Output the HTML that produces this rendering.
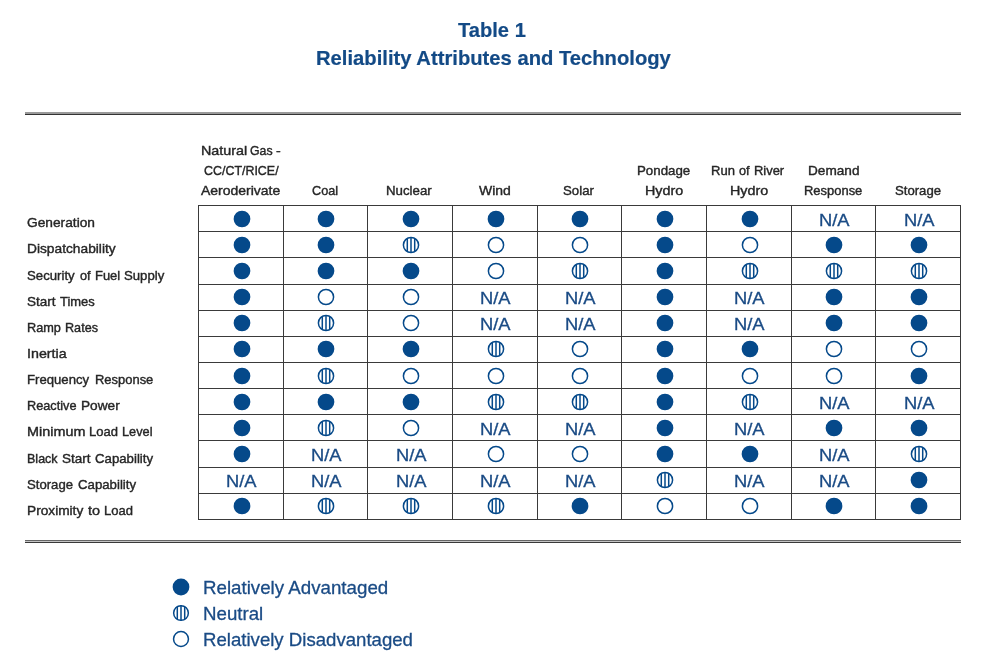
<!DOCTYPE html>
<html><head><meta charset="utf-8"><title>Table 1 - Reliability Attributes and Technology</title>
<style>
html,body{margin:0;padding:0;background:#fff;}
body{width:991px;height:667px;position:relative;overflow:hidden;font-family:"Liberation Sans",sans-serif;}
#pg{position:absolute;left:0;top:0;width:991px;height:667px;background:#fff;will-change:transform;}
.t{position:absolute;white-space:pre;line-height:1;transform-origin:0 0;}
.ic{position:absolute;overflow:visible;}
.h,.v{position:absolute;background:#3a3a3a;}
.h{height:1px;left:198.0px;width:763.0px;}
.v{width:1px;top:205.0px;height:315.0px;}
.r{position:absolute;left:25px;width:936px;}
</style></head><body><div id="pg">
<div class="r" style="top:112px;height:2px;background:#9a9a9a"></div><div class="r" style="top:114px;height:1px;background:#333"></div>
<div class="r" style="top:540px;height:1px;background:#666"></div><div class="r" style="top:541px;height:1px;background:#c4c4c4"></div><div class="r" style="top:542px;height:1px;background:#3a3a3a"></div>
<div class="h" style="top:205px"></div><div class="h" style="top:231px"></div><div class="h" style="top:257px"></div><div class="h" style="top:284px"></div><div class="h" style="top:310px"></div><div class="h" style="top:336px"></div><div class="h" style="top:362px"></div><div class="h" style="top:388px"></div><div class="h" style="top:414px"></div><div class="h" style="top:440px"></div><div class="h" style="top:467px"></div><div class="h" style="top:493px"></div><div class="h" style="top:519px"></div>
<div class="v" style="left:198px"></div><div class="v" style="left:283px"></div><div class="v" style="left:367px"></div><div class="v" style="left:452px"></div><div class="v" style="left:537px"></div><div class="v" style="left:621px"></div><div class="v" style="left:706px"></div><div class="v" style="left:791px"></div><div class="v" style="left:875px"></div><div class="v" style="left:960px"></div>
<div class="t" style="left:457.94px;top:20.00px;font-size:20.2px;font-weight:700;-webkit-text-stroke:0.2px #134a86;color:#134a86;transform:scaleX(0.9963)">Table 1</div>
<div class="t" style="left:315.66px;top:48.00px;font-size:20.2px;font-weight:700;-webkit-text-stroke:0.2px #134a86;color:#134a86;transform:scaleX(1.0012)">Reliability Attributes and Technology</div>
<div class="t" style="left:27.27px;top:216.00px;font-size:13.3px;-webkit-text-stroke:0.4px #262626;color:#262626;transform:scaleX(1.0329)">Generation</div>
<div class="t" style="left:26.80px;top:242.00px;font-size:13.3px;-webkit-text-stroke:0.4px #262626;color:#262626;transform:scaleX(1.0342)">Dispatchability</div>
<div class="t" style="left:27.27px;top:269.00px;font-size:13.3px;-webkit-text-stroke:0.4px #262626;color:#262626;transform:scaleX(0.9924)">Security</div>
<div class="t" style="left:80.12px;top:269.00px;font-size:13.3px;-webkit-text-stroke:0.4px #262626;color:#262626;transform:scaleX(0.9568)">of</div>
<div class="t" style="left:95.40px;top:269.00px;font-size:13.3px;-webkit-text-stroke:0.4px #262626;color:#262626;transform:scaleX(0.9722)">Fuel</div>
<div class="t" style="left:123.88px;top:269.00px;font-size:13.3px;-webkit-text-stroke:0.4px #262626;color:#262626;transform:scaleX(0.9895)">Supply</div>
<div class="t" style="left:27.21px;top:295.00px;font-size:13.3px;-webkit-text-stroke:0.4px #262626;color:#262626;transform:scaleX(1.0159)">Start</div>
<div class="t" style="left:60.05px;top:295.00px;font-size:13.3px;-webkit-text-stroke:0.4px #262626;color:#262626;transform:scaleX(0.9749)">Times</div>
<div class="t" style="left:27.20px;top:321.00px;font-size:13.3px;-webkit-text-stroke:0.4px #262626;color:#262626;transform:scaleX(0.9571)">Ramp</div>
<div class="t" style="left:65.00px;top:321.00px;font-size:13.3px;-webkit-text-stroke:0.4px #262626;color:#262626;transform:scaleX(0.9497)">Rates</div>
<div class="t" style="left:26.94px;top:347.00px;font-size:13.3px;-webkit-text-stroke:0.4px #262626;color:#262626;transform:scaleX(1.0720)">Inertia</div>
<div class="t" style="left:27.20px;top:373.00px;font-size:13.3px;-webkit-text-stroke:0.4px #262626;color:#262626;transform:scaleX(0.9883)">Frequency</div>
<div class="t" style="left:94.50px;top:373.00px;font-size:13.3px;-webkit-text-stroke:0.4px #262626;color:#262626;transform:scaleX(0.9740)">Response</div>
<div class="t" style="left:27.20px;top:399.00px;font-size:13.3px;-webkit-text-stroke:0.4px #262626;color:#262626;transform:scaleX(0.9562)">Reactive</div>
<div class="t" style="left:81.10px;top:399.00px;font-size:13.3px;-webkit-text-stroke:0.4px #262626;color:#262626;transform:scaleX(1.0262)">Power</div>
<div class="t" style="left:27.20px;top:425.00px;font-size:13.3px;-webkit-text-stroke:0.4px #262626;color:#262626;transform:scaleX(1.0832)">Minimum</div>
<div class="t" style="left:89.10px;top:425.00px;font-size:13.3px;-webkit-text-stroke:0.4px #262626;color:#262626;transform:scaleX(0.9781)">Load</div>
<div class="t" style="left:121.70px;top:425.00px;font-size:13.3px;-webkit-text-stroke:0.4px #262626;color:#262626;transform:scaleX(0.9584)">Level</div>
<div class="t" style="left:27.20px;top:452.00px;font-size:13.3px;-webkit-text-stroke:0.4px #262626;color:#262626;transform:scaleX(0.9419)">Black</div>
<div class="t" style="left:61.91px;top:452.00px;font-size:13.3px;-webkit-text-stroke:0.4px #262626;color:#262626;transform:scaleX(1.0159)">Start</div>
<div class="t" style="left:94.72px;top:452.00px;font-size:13.3px;-webkit-text-stroke:0.4px #262626;color:#262626;transform:scaleX(0.9939)">Capability</div>
<div class="t" style="left:27.29px;top:478.00px;font-size:13.3px;-webkit-text-stroke:0.4px #262626;color:#262626;transform:scaleX(0.9878)">Storage</div>
<div class="t" style="left:77.52px;top:478.00px;font-size:13.3px;-webkit-text-stroke:0.4px #262626;color:#262626;transform:scaleX(0.9939)">Capability</div>
<div class="t" style="left:27.20px;top:504.00px;font-size:13.3px;-webkit-text-stroke:0.4px #262626;color:#262626;transform:scaleX(1.0293)">Proximity</div>
<div class="t" style="left:88.06px;top:504.00px;font-size:13.3px;-webkit-text-stroke:0.4px #262626;color:#262626;transform:scaleX(1.0873)">to</div>
<div class="t" style="left:103.75px;top:504.00px;font-size:13.3px;-webkit-text-stroke:0.4px #262626;color:#262626;transform:scaleX(0.9781)">Load</div>
<div class="t" style="left:200.80px;top:144.00px;font-size:13.3px;-webkit-text-stroke:0.4px #262626;color:#262626;transform:scaleX(1.0784)">Natural</div>
<div class="t" style="left:249.53px;top:144.00px;font-size:13.3px;-webkit-text-stroke:0.4px #262626;color:#262626;transform:scaleX(0.9255)">Gas</div>
<div class="t" style="left:275.80px;top:144.00px;font-size:13.3px;-webkit-text-stroke:0.4px #262626;color:#262626;transform:scaleX(1.0623)">-</div>
<div class="t" style="left:203.68px;top:164.00px;font-size:13.3px;-webkit-text-stroke:0.4px #262626;color:#262626;transform:scaleX(0.9349)">CC/CT/RICE/</div>
<div class="t" style="left:201.30px;top:184.00px;font-size:13.3px;-webkit-text-stroke:0.4px #262626;color:#262626;transform:scaleX(1.0508)">Aeroderivate</div>
<div class="t" style="left:312.37px;top:184.00px;font-size:13.3px;-webkit-text-stroke:0.4px #262626;color:#262626;transform:scaleX(0.9519)">Coal</div>
<div class="t" style="left:386.20px;top:184.00px;font-size:13.3px;-webkit-text-stroke:0.4px #262626;color:#262626;transform:scaleX(0.9976)">Nuclear</div>
<div class="t" style="left:478.95px;top:184.00px;font-size:13.3px;-webkit-text-stroke:0.4px #262626;color:#262626;transform:scaleX(1.0513)">Wind</div>
<div class="t" style="left:563.34px;top:184.00px;font-size:13.3px;-webkit-text-stroke:0.4px #262626;color:#262626;transform:scaleX(0.9953)">Solar</div>
<div class="t" style="left:637.20px;top:164.00px;font-size:13.3px;-webkit-text-stroke:0.4px #262626;color:#262626;transform:scaleX(1.0002)">Pondage</div>
<div class="t" style="left:645.00px;top:184.00px;font-size:13.3px;-webkit-text-stroke:0.4px #262626;color:#262626;transform:scaleX(1.0776)">Hydro</div>
<div class="t" style="left:711.45px;top:164.00px;font-size:13.3px;-webkit-text-stroke:0.4px #262626;color:#262626;transform:scaleX(0.9798)">Run</div>
<div class="t" style="left:738.62px;top:164.00px;font-size:13.3px;-webkit-text-stroke:0.4px #262626;color:#262626;transform:scaleX(0.9568)">of</div>
<div class="t" style="left:754.40px;top:164.00px;font-size:13.3px;-webkit-text-stroke:0.4px #262626;color:#262626;transform:scaleX(0.9725)">River</div>
<div class="t" style="left:729.70px;top:184.00px;font-size:13.3px;-webkit-text-stroke:0.4px #262626;color:#262626;transform:scaleX(1.0776)">Hydro</div>
<div class="t" style="left:808.20px;top:164.00px;font-size:13.3px;-webkit-text-stroke:0.4px #262626;color:#262626;transform:scaleX(1.0239)">Demand</div>
<div class="t" style="left:804.00px;top:184.00px;font-size:13.3px;-webkit-text-stroke:0.4px #262626;color:#262626;transform:scaleX(0.9740)">Response</div>
<div class="t" style="left:894.69px;top:184.00px;font-size:13.3px;-webkit-text-stroke:0.4px #262626;color:#262626;transform:scaleX(0.9878)">Storage</div>
<div class="t" style="left:202.53px;top:579.00px;font-size:18.4px;-webkit-text-stroke:0.3px #1a4b85;color:#1a4b85;transform:scaleX(1.0177)">Relatively Advantaged</div>
<div class="t" style="left:202.57px;top:605.00px;font-size:18.4px;-webkit-text-stroke:0.3px #1a4b85;color:#1a4b85;transform:scaleX(1.0158)">Neutral</div>
<div class="t" style="left:202.55px;top:631.00px;font-size:18.4px;-webkit-text-stroke:0.3px #1a4b85;color:#1a4b85;transform:scaleX(1.0118)">Relatively Disadvantaged</div>
<div class="t" style="left:818.90px;top:212.00px;font-size:16.3px;-webkit-text-stroke:0.3px #1a4b85;color:#1a4b85;transform:scaleX(1.1252)">N/A</div>
<div class="t" style="left:903.57px;top:212.00px;font-size:16.3px;-webkit-text-stroke:0.3px #1a4b85;color:#1a4b85;transform:scaleX(1.1252)">N/A</div>
<div class="t" style="left:480.24px;top:290.00px;font-size:16.3px;-webkit-text-stroke:0.3px #1a4b85;color:#1a4b85;transform:scaleX(1.1252)">N/A</div>
<div class="t" style="left:564.90px;top:290.00px;font-size:16.3px;-webkit-text-stroke:0.3px #1a4b85;color:#1a4b85;transform:scaleX(1.1252)">N/A</div>
<div class="t" style="left:734.24px;top:290.00px;font-size:16.3px;-webkit-text-stroke:0.3px #1a4b85;color:#1a4b85;transform:scaleX(1.1252)">N/A</div>
<div class="t" style="left:480.24px;top:316.00px;font-size:16.3px;-webkit-text-stroke:0.3px #1a4b85;color:#1a4b85;transform:scaleX(1.1252)">N/A</div>
<div class="t" style="left:564.90px;top:316.00px;font-size:16.3px;-webkit-text-stroke:0.3px #1a4b85;color:#1a4b85;transform:scaleX(1.1252)">N/A</div>
<div class="t" style="left:734.24px;top:316.00px;font-size:16.3px;-webkit-text-stroke:0.3px #1a4b85;color:#1a4b85;transform:scaleX(1.1252)">N/A</div>
<div class="t" style="left:818.90px;top:395.00px;font-size:16.3px;-webkit-text-stroke:0.3px #1a4b85;color:#1a4b85;transform:scaleX(1.1252)">N/A</div>
<div class="t" style="left:903.57px;top:395.00px;font-size:16.3px;-webkit-text-stroke:0.3px #1a4b85;color:#1a4b85;transform:scaleX(1.1252)">N/A</div>
<div class="t" style="left:480.24px;top:421.00px;font-size:16.3px;-webkit-text-stroke:0.3px #1a4b85;color:#1a4b85;transform:scaleX(1.1252)">N/A</div>
<div class="t" style="left:564.90px;top:421.00px;font-size:16.3px;-webkit-text-stroke:0.3px #1a4b85;color:#1a4b85;transform:scaleX(1.1252)">N/A</div>
<div class="t" style="left:734.24px;top:421.00px;font-size:16.3px;-webkit-text-stroke:0.3px #1a4b85;color:#1a4b85;transform:scaleX(1.1252)">N/A</div>
<div class="t" style="left:310.90px;top:447.00px;font-size:16.3px;-webkit-text-stroke:0.3px #1a4b85;color:#1a4b85;transform:scaleX(1.1252)">N/A</div>
<div class="t" style="left:395.57px;top:447.00px;font-size:16.3px;-webkit-text-stroke:0.3px #1a4b85;color:#1a4b85;transform:scaleX(1.1252)">N/A</div>
<div class="t" style="left:818.90px;top:447.00px;font-size:16.3px;-webkit-text-stroke:0.3px #1a4b85;color:#1a4b85;transform:scaleX(1.1252)">N/A</div>
<div class="t" style="left:226.24px;top:473.00px;font-size:16.3px;-webkit-text-stroke:0.3px #1a4b85;color:#1a4b85;transform:scaleX(1.1252)">N/A</div>
<div class="t" style="left:310.90px;top:473.00px;font-size:16.3px;-webkit-text-stroke:0.3px #1a4b85;color:#1a4b85;transform:scaleX(1.1252)">N/A</div>
<div class="t" style="left:395.57px;top:473.00px;font-size:16.3px;-webkit-text-stroke:0.3px #1a4b85;color:#1a4b85;transform:scaleX(1.1252)">N/A</div>
<div class="t" style="left:480.24px;top:473.00px;font-size:16.3px;-webkit-text-stroke:0.3px #1a4b85;color:#1a4b85;transform:scaleX(1.1252)">N/A</div>
<div class="t" style="left:564.90px;top:473.00px;font-size:16.3px;-webkit-text-stroke:0.3px #1a4b85;color:#1a4b85;transform:scaleX(1.1252)">N/A</div>
<div class="t" style="left:734.24px;top:473.00px;font-size:16.3px;-webkit-text-stroke:0.3px #1a4b85;color:#1a4b85;transform:scaleX(1.1252)">N/A</div>
<div class="t" style="left:818.90px;top:473.00px;font-size:16.3px;-webkit-text-stroke:0.3px #1a4b85;color:#1a4b85;transform:scaleX(1.1252)">N/A</div>
<svg class="ic" style="left:231.53px;top:208.58px" width="20" height="20" viewBox="0 0 20 20"><circle cx="10" cy="10" r="8.35" fill="#05498a"/></svg><svg class="ic" style="left:316.20px;top:208.58px" width="20" height="20" viewBox="0 0 20 20"><circle cx="10" cy="10" r="8.35" fill="#05498a"/></svg><svg class="ic" style="left:400.87px;top:208.58px" width="20" height="20" viewBox="0 0 20 20"><circle cx="10" cy="10" r="8.35" fill="#05498a"/></svg><svg class="ic" style="left:485.53px;top:208.58px" width="20" height="20" viewBox="0 0 20 20"><circle cx="10" cy="10" r="8.35" fill="#05498a"/></svg><svg class="ic" style="left:570.20px;top:208.58px" width="20" height="20" viewBox="0 0 20 20"><circle cx="10" cy="10" r="8.35" fill="#05498a"/></svg><svg class="ic" style="left:654.87px;top:208.58px" width="20" height="20" viewBox="0 0 20 20"><circle cx="10" cy="10" r="8.35" fill="#05498a"/></svg><svg class="ic" style="left:739.53px;top:208.58px" width="20" height="20" viewBox="0 0 20 20"><circle cx="10" cy="10" r="8.35" fill="#05498a"/></svg>
<svg class="ic" style="left:231.53px;top:234.75px" width="20" height="20" viewBox="0 0 20 20"><circle cx="10" cy="10" r="8.35" fill="#05498a"/></svg><svg class="ic" style="left:316.20px;top:234.75px" width="20" height="20" viewBox="0 0 20 20"><circle cx="10" cy="10" r="8.35" fill="#05498a"/></svg><svg class="ic" style="left:400.87px;top:234.75px" width="20" height="20" viewBox="0 0 20 20"><circle cx="10" cy="10" r="7.6" fill="#fff" stroke="#05498a" stroke-width="1.5"/><path d="M6.3 3.4V16.6M10 2.2V17.8M13.7 3.4V16.6" stroke="#05498a" stroke-width="1.5" fill="none"/></svg><svg class="ic" style="left:485.53px;top:234.75px" width="20" height="20" viewBox="0 0 20 20"><circle cx="10" cy="10" r="7.6" fill="#fff" stroke="#05498a" stroke-width="1.5"/></svg><svg class="ic" style="left:570.20px;top:234.75px" width="20" height="20" viewBox="0 0 20 20"><circle cx="10" cy="10" r="7.6" fill="#fff" stroke="#05498a" stroke-width="1.5"/></svg><svg class="ic" style="left:654.87px;top:234.75px" width="20" height="20" viewBox="0 0 20 20"><circle cx="10" cy="10" r="8.35" fill="#05498a"/></svg><svg class="ic" style="left:739.53px;top:234.75px" width="20" height="20" viewBox="0 0 20 20"><circle cx="10" cy="10" r="7.6" fill="#fff" stroke="#05498a" stroke-width="1.5"/></svg><svg class="ic" style="left:824.20px;top:234.75px" width="20" height="20" viewBox="0 0 20 20"><circle cx="10" cy="10" r="8.35" fill="#05498a"/></svg><svg class="ic" style="left:908.87px;top:234.75px" width="20" height="20" viewBox="0 0 20 20"><circle cx="10" cy="10" r="8.35" fill="#05498a"/></svg>
<svg class="ic" style="left:231.53px;top:260.92px" width="20" height="20" viewBox="0 0 20 20"><circle cx="10" cy="10" r="8.35" fill="#05498a"/></svg><svg class="ic" style="left:316.20px;top:260.92px" width="20" height="20" viewBox="0 0 20 20"><circle cx="10" cy="10" r="8.35" fill="#05498a"/></svg><svg class="ic" style="left:400.87px;top:260.92px" width="20" height="20" viewBox="0 0 20 20"><circle cx="10" cy="10" r="8.35" fill="#05498a"/></svg><svg class="ic" style="left:485.53px;top:260.92px" width="20" height="20" viewBox="0 0 20 20"><circle cx="10" cy="10" r="7.6" fill="#fff" stroke="#05498a" stroke-width="1.5"/></svg><svg class="ic" style="left:570.20px;top:260.92px" width="20" height="20" viewBox="0 0 20 20"><circle cx="10" cy="10" r="7.6" fill="#fff" stroke="#05498a" stroke-width="1.5"/><path d="M6.3 3.4V16.6M10 2.2V17.8M13.7 3.4V16.6" stroke="#05498a" stroke-width="1.5" fill="none"/></svg><svg class="ic" style="left:654.87px;top:260.92px" width="20" height="20" viewBox="0 0 20 20"><circle cx="10" cy="10" r="8.35" fill="#05498a"/></svg><svg class="ic" style="left:739.53px;top:260.92px" width="20" height="20" viewBox="0 0 20 20"><circle cx="10" cy="10" r="7.6" fill="#fff" stroke="#05498a" stroke-width="1.5"/><path d="M6.3 3.4V16.6M10 2.2V17.8M13.7 3.4V16.6" stroke="#05498a" stroke-width="1.5" fill="none"/></svg><svg class="ic" style="left:824.20px;top:260.92px" width="20" height="20" viewBox="0 0 20 20"><circle cx="10" cy="10" r="7.6" fill="#fff" stroke="#05498a" stroke-width="1.5"/><path d="M6.3 3.4V16.6M10 2.2V17.8M13.7 3.4V16.6" stroke="#05498a" stroke-width="1.5" fill="none"/></svg><svg class="ic" style="left:908.87px;top:260.92px" width="20" height="20" viewBox="0 0 20 20"><circle cx="10" cy="10" r="7.6" fill="#fff" stroke="#05498a" stroke-width="1.5"/><path d="M6.3 3.4V16.6M10 2.2V17.8M13.7 3.4V16.6" stroke="#05498a" stroke-width="1.5" fill="none"/></svg>
<svg class="ic" style="left:231.53px;top:287.08px" width="20" height="20" viewBox="0 0 20 20"><circle cx="10" cy="10" r="8.35" fill="#05498a"/></svg><svg class="ic" style="left:316.20px;top:287.08px" width="20" height="20" viewBox="0 0 20 20"><circle cx="10" cy="10" r="7.6" fill="#fff" stroke="#05498a" stroke-width="1.5"/></svg><svg class="ic" style="left:400.87px;top:287.08px" width="20" height="20" viewBox="0 0 20 20"><circle cx="10" cy="10" r="7.6" fill="#fff" stroke="#05498a" stroke-width="1.5"/></svg><svg class="ic" style="left:654.87px;top:287.08px" width="20" height="20" viewBox="0 0 20 20"><circle cx="10" cy="10" r="8.35" fill="#05498a"/></svg><svg class="ic" style="left:824.20px;top:287.08px" width="20" height="20" viewBox="0 0 20 20"><circle cx="10" cy="10" r="8.35" fill="#05498a"/></svg><svg class="ic" style="left:908.87px;top:287.08px" width="20" height="20" viewBox="0 0 20 20"><circle cx="10" cy="10" r="8.35" fill="#05498a"/></svg>
<svg class="ic" style="left:231.53px;top:313.25px" width="20" height="20" viewBox="0 0 20 20"><circle cx="10" cy="10" r="8.35" fill="#05498a"/></svg><svg class="ic" style="left:316.20px;top:313.25px" width="20" height="20" viewBox="0 0 20 20"><circle cx="10" cy="10" r="7.6" fill="#fff" stroke="#05498a" stroke-width="1.5"/><path d="M6.3 3.4V16.6M10 2.2V17.8M13.7 3.4V16.6" stroke="#05498a" stroke-width="1.5" fill="none"/></svg><svg class="ic" style="left:400.87px;top:313.25px" width="20" height="20" viewBox="0 0 20 20"><circle cx="10" cy="10" r="7.6" fill="#fff" stroke="#05498a" stroke-width="1.5"/></svg><svg class="ic" style="left:654.87px;top:313.25px" width="20" height="20" viewBox="0 0 20 20"><circle cx="10" cy="10" r="8.35" fill="#05498a"/></svg><svg class="ic" style="left:824.20px;top:313.25px" width="20" height="20" viewBox="0 0 20 20"><circle cx="10" cy="10" r="8.35" fill="#05498a"/></svg><svg class="ic" style="left:908.87px;top:313.25px" width="20" height="20" viewBox="0 0 20 20"><circle cx="10" cy="10" r="8.35" fill="#05498a"/></svg>
<svg class="ic" style="left:231.53px;top:339.42px" width="20" height="20" viewBox="0 0 20 20"><circle cx="10" cy="10" r="8.35" fill="#05498a"/></svg><svg class="ic" style="left:316.20px;top:339.42px" width="20" height="20" viewBox="0 0 20 20"><circle cx="10" cy="10" r="8.35" fill="#05498a"/></svg><svg class="ic" style="left:400.87px;top:339.42px" width="20" height="20" viewBox="0 0 20 20"><circle cx="10" cy="10" r="8.35" fill="#05498a"/></svg><svg class="ic" style="left:485.53px;top:339.42px" width="20" height="20" viewBox="0 0 20 20"><circle cx="10" cy="10" r="7.6" fill="#fff" stroke="#05498a" stroke-width="1.5"/><path d="M6.3 3.4V16.6M10 2.2V17.8M13.7 3.4V16.6" stroke="#05498a" stroke-width="1.5" fill="none"/></svg><svg class="ic" style="left:570.20px;top:339.42px" width="20" height="20" viewBox="0 0 20 20"><circle cx="10" cy="10" r="7.6" fill="#fff" stroke="#05498a" stroke-width="1.5"/></svg><svg class="ic" style="left:654.87px;top:339.42px" width="20" height="20" viewBox="0 0 20 20"><circle cx="10" cy="10" r="8.35" fill="#05498a"/></svg><svg class="ic" style="left:739.53px;top:339.42px" width="20" height="20" viewBox="0 0 20 20"><circle cx="10" cy="10" r="8.35" fill="#05498a"/></svg><svg class="ic" style="left:824.20px;top:339.42px" width="20" height="20" viewBox="0 0 20 20"><circle cx="10" cy="10" r="7.6" fill="#fff" stroke="#05498a" stroke-width="1.5"/></svg><svg class="ic" style="left:908.87px;top:339.42px" width="20" height="20" viewBox="0 0 20 20"><circle cx="10" cy="10" r="7.6" fill="#fff" stroke="#05498a" stroke-width="1.5"/></svg>
<svg class="ic" style="left:231.53px;top:365.58px" width="20" height="20" viewBox="0 0 20 20"><circle cx="10" cy="10" r="8.35" fill="#05498a"/></svg><svg class="ic" style="left:316.20px;top:365.58px" width="20" height="20" viewBox="0 0 20 20"><circle cx="10" cy="10" r="7.6" fill="#fff" stroke="#05498a" stroke-width="1.5"/><path d="M6.3 3.4V16.6M10 2.2V17.8M13.7 3.4V16.6" stroke="#05498a" stroke-width="1.5" fill="none"/></svg><svg class="ic" style="left:400.87px;top:365.58px" width="20" height="20" viewBox="0 0 20 20"><circle cx="10" cy="10" r="7.6" fill="#fff" stroke="#05498a" stroke-width="1.5"/></svg><svg class="ic" style="left:485.53px;top:365.58px" width="20" height="20" viewBox="0 0 20 20"><circle cx="10" cy="10" r="7.6" fill="#fff" stroke="#05498a" stroke-width="1.5"/></svg><svg class="ic" style="left:570.20px;top:365.58px" width="20" height="20" viewBox="0 0 20 20"><circle cx="10" cy="10" r="7.6" fill="#fff" stroke="#05498a" stroke-width="1.5"/></svg><svg class="ic" style="left:654.87px;top:365.58px" width="20" height="20" viewBox="0 0 20 20"><circle cx="10" cy="10" r="8.35" fill="#05498a"/></svg><svg class="ic" style="left:739.53px;top:365.58px" width="20" height="20" viewBox="0 0 20 20"><circle cx="10" cy="10" r="7.6" fill="#fff" stroke="#05498a" stroke-width="1.5"/></svg><svg class="ic" style="left:824.20px;top:365.58px" width="20" height="20" viewBox="0 0 20 20"><circle cx="10" cy="10" r="7.6" fill="#fff" stroke="#05498a" stroke-width="1.5"/></svg><svg class="ic" style="left:908.87px;top:365.58px" width="20" height="20" viewBox="0 0 20 20"><circle cx="10" cy="10" r="8.35" fill="#05498a"/></svg>
<svg class="ic" style="left:231.53px;top:391.75px" width="20" height="20" viewBox="0 0 20 20"><circle cx="10" cy="10" r="8.35" fill="#05498a"/></svg><svg class="ic" style="left:316.20px;top:391.75px" width="20" height="20" viewBox="0 0 20 20"><circle cx="10" cy="10" r="8.35" fill="#05498a"/></svg><svg class="ic" style="left:400.87px;top:391.75px" width="20" height="20" viewBox="0 0 20 20"><circle cx="10" cy="10" r="8.35" fill="#05498a"/></svg><svg class="ic" style="left:485.53px;top:391.75px" width="20" height="20" viewBox="0 0 20 20"><circle cx="10" cy="10" r="7.6" fill="#fff" stroke="#05498a" stroke-width="1.5"/><path d="M6.3 3.4V16.6M10 2.2V17.8M13.7 3.4V16.6" stroke="#05498a" stroke-width="1.5" fill="none"/></svg><svg class="ic" style="left:570.20px;top:391.75px" width="20" height="20" viewBox="0 0 20 20"><circle cx="10" cy="10" r="7.6" fill="#fff" stroke="#05498a" stroke-width="1.5"/><path d="M6.3 3.4V16.6M10 2.2V17.8M13.7 3.4V16.6" stroke="#05498a" stroke-width="1.5" fill="none"/></svg><svg class="ic" style="left:654.87px;top:391.75px" width="20" height="20" viewBox="0 0 20 20"><circle cx="10" cy="10" r="8.35" fill="#05498a"/></svg><svg class="ic" style="left:739.53px;top:391.75px" width="20" height="20" viewBox="0 0 20 20"><circle cx="10" cy="10" r="7.6" fill="#fff" stroke="#05498a" stroke-width="1.5"/><path d="M6.3 3.4V16.6M10 2.2V17.8M13.7 3.4V16.6" stroke="#05498a" stroke-width="1.5" fill="none"/></svg>
<svg class="ic" style="left:231.53px;top:417.92px" width="20" height="20" viewBox="0 0 20 20"><circle cx="10" cy="10" r="8.35" fill="#05498a"/></svg><svg class="ic" style="left:316.20px;top:417.92px" width="20" height="20" viewBox="0 0 20 20"><circle cx="10" cy="10" r="7.6" fill="#fff" stroke="#05498a" stroke-width="1.5"/><path d="M6.3 3.4V16.6M10 2.2V17.8M13.7 3.4V16.6" stroke="#05498a" stroke-width="1.5" fill="none"/></svg><svg class="ic" style="left:400.87px;top:417.92px" width="20" height="20" viewBox="0 0 20 20"><circle cx="10" cy="10" r="7.6" fill="#fff" stroke="#05498a" stroke-width="1.5"/></svg><svg class="ic" style="left:654.87px;top:417.92px" width="20" height="20" viewBox="0 0 20 20"><circle cx="10" cy="10" r="8.35" fill="#05498a"/></svg><svg class="ic" style="left:824.20px;top:417.92px" width="20" height="20" viewBox="0 0 20 20"><circle cx="10" cy="10" r="8.35" fill="#05498a"/></svg><svg class="ic" style="left:908.87px;top:417.92px" width="20" height="20" viewBox="0 0 20 20"><circle cx="10" cy="10" r="8.35" fill="#05498a"/></svg>
<svg class="ic" style="left:231.53px;top:444.08px" width="20" height="20" viewBox="0 0 20 20"><circle cx="10" cy="10" r="8.35" fill="#05498a"/></svg><svg class="ic" style="left:485.53px;top:444.08px" width="20" height="20" viewBox="0 0 20 20"><circle cx="10" cy="10" r="7.6" fill="#fff" stroke="#05498a" stroke-width="1.5"/></svg><svg class="ic" style="left:570.20px;top:444.08px" width="20" height="20" viewBox="0 0 20 20"><circle cx="10" cy="10" r="7.6" fill="#fff" stroke="#05498a" stroke-width="1.5"/></svg><svg class="ic" style="left:654.87px;top:444.08px" width="20" height="20" viewBox="0 0 20 20"><circle cx="10" cy="10" r="8.35" fill="#05498a"/></svg><svg class="ic" style="left:739.53px;top:444.08px" width="20" height="20" viewBox="0 0 20 20"><circle cx="10" cy="10" r="8.35" fill="#05498a"/></svg><svg class="ic" style="left:908.87px;top:444.08px" width="20" height="20" viewBox="0 0 20 20"><circle cx="10" cy="10" r="7.6" fill="#fff" stroke="#05498a" stroke-width="1.5"/><path d="M6.3 3.4V16.6M10 2.2V17.8M13.7 3.4V16.6" stroke="#05498a" stroke-width="1.5" fill="none"/></svg>
<svg class="ic" style="left:654.87px;top:470.25px" width="20" height="20" viewBox="0 0 20 20"><circle cx="10" cy="10" r="7.6" fill="#fff" stroke="#05498a" stroke-width="1.5"/><path d="M6.3 3.4V16.6M10 2.2V17.8M13.7 3.4V16.6" stroke="#05498a" stroke-width="1.5" fill="none"/></svg><svg class="ic" style="left:908.87px;top:470.25px" width="20" height="20" viewBox="0 0 20 20"><circle cx="10" cy="10" r="8.35" fill="#05498a"/></svg>
<svg class="ic" style="left:231.53px;top:496.42px" width="20" height="20" viewBox="0 0 20 20"><circle cx="10" cy="10" r="8.35" fill="#05498a"/></svg><svg class="ic" style="left:316.20px;top:496.42px" width="20" height="20" viewBox="0 0 20 20"><circle cx="10" cy="10" r="7.6" fill="#fff" stroke="#05498a" stroke-width="1.5"/><path d="M6.3 3.4V16.6M10 2.2V17.8M13.7 3.4V16.6" stroke="#05498a" stroke-width="1.5" fill="none"/></svg><svg class="ic" style="left:400.87px;top:496.42px" width="20" height="20" viewBox="0 0 20 20"><circle cx="10" cy="10" r="7.6" fill="#fff" stroke="#05498a" stroke-width="1.5"/><path d="M6.3 3.4V16.6M10 2.2V17.8M13.7 3.4V16.6" stroke="#05498a" stroke-width="1.5" fill="none"/></svg><svg class="ic" style="left:485.53px;top:496.42px" width="20" height="20" viewBox="0 0 20 20"><circle cx="10" cy="10" r="7.6" fill="#fff" stroke="#05498a" stroke-width="1.5"/><path d="M6.3 3.4V16.6M10 2.2V17.8M13.7 3.4V16.6" stroke="#05498a" stroke-width="1.5" fill="none"/></svg><svg class="ic" style="left:570.20px;top:496.42px" width="20" height="20" viewBox="0 0 20 20"><circle cx="10" cy="10" r="8.35" fill="#05498a"/></svg><svg class="ic" style="left:654.87px;top:496.42px" width="20" height="20" viewBox="0 0 20 20"><circle cx="10" cy="10" r="7.6" fill="#fff" stroke="#05498a" stroke-width="1.5"/></svg><svg class="ic" style="left:739.53px;top:496.42px" width="20" height="20" viewBox="0 0 20 20"><circle cx="10" cy="10" r="7.6" fill="#fff" stroke="#05498a" stroke-width="1.5"/></svg><svg class="ic" style="left:824.20px;top:496.42px" width="20" height="20" viewBox="0 0 20 20"><circle cx="10" cy="10" r="8.35" fill="#05498a"/></svg><svg class="ic" style="left:908.87px;top:496.42px" width="20" height="20" viewBox="0 0 20 20"><circle cx="10" cy="10" r="8.35" fill="#05498a"/></svg>
<svg class="ic" style="left:171.30px;top:576.90px" width="20" height="20" viewBox="0 0 20 20"><circle cx="10" cy="10" r="8.4" fill="#05498a"/></svg><svg class="ic" style="left:171.00px;top:602.90px" width="20" height="20" viewBox="0 0 20 20"><circle cx="10" cy="10" r="7.35" fill="#fff" stroke="#05498a" stroke-width="1.5"/><path d="M6.3 3.4V16.6M10 2.2V17.8M13.7 3.4V16.6" stroke="#05498a" stroke-width="1.5" fill="none"/></svg><svg class="ic" style="left:171.00px;top:629.00px" width="20" height="20" viewBox="0 0 20 20"><circle cx="10" cy="10" r="7.449999999999999" fill="#fff" stroke="#05498a" stroke-width="1.5"/></svg>
</div></body></html>
